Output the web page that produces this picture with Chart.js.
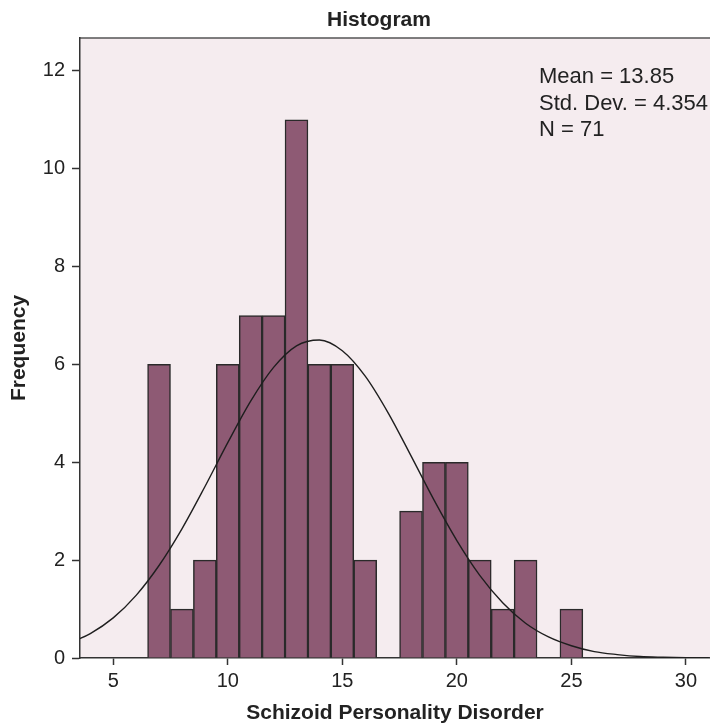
<!DOCTYPE html>
<html>
<head>
<meta charset="utf-8">
<title>Histogram</title>
<script src="https://cdn.jsdelivr.net/npm/chart.js@4"></script>
<style>
  body { margin: 0; background: #fff; }
  canvas { display: block; }
</style>
</head>
<body>
<canvas id="histo" width="710" height="726"></canvas>
<script>
const binCenters = [7, 8, 9, 10, 11, 12, 13, 14, 15, 16, 17, 18, 19, 20, 21, 22, 23, 24, 25];
const frequencies = [6, 1, 2, 6, 7, 7, 11, 6, 6, 2, 0, 3, 4, 4, 2, 1, 2, 0, 1];

// curva normal
const curveX = [3, 4, 5, 6, 7, 8, 9, 10, 11, 12, 13, 14, 15, 16, 17, 18, 19, 20, 21, 22, 23, 24, 25, 26, 27, 28, 29, 30, 31];
const curveY = [0.29, 0.50, 0.82, 1.28, 1.89, 2.64, 3.50, 4.40, 5.25, 5.94, 6.38, 6.50, 6.28, 5.76, 5.01, 4.13, 3.23, 2.40, 1.69, 1.13, 0.71, 0.43, 0.25, 0.13, 0.07, 0.03, 0.015, 0.006, 0.002];

const xTicks = [5, 10, 15, 20, 25, 30];
const yTicks = [0, 2, 4, 6, 8, 10, 12];
const statsText = ['Mean = 13.85', 'Std. Dev. = 4.354', 'N = 71'];

const FONT = "'Liberation Sans', Arial, Helvetica, sans-serif";

/* fondo rosado + titulo + texto de estadisticas */
const decor = {
    id: 'decor',
    beforeDraw(chart) {
        const {ctx, chartArea: a} = chart;
        ctx.save();
        ctx.fillStyle = '#f5ecef';
        ctx.fillRect(a.left, a.top, a.right - a.left, a.bottom - a.top);
        ctx.strokeStyle = '#555';
        ctx.lineWidth = 1.5;
        ctx.beginPath();
        ctx.moveTo(a.left, a.top);
        ctx.lineTo(a.right, a.top);
        ctx.stroke();
        ctx.restore();
    },
    afterDraw(chart) {
        const {ctx} = chart;
        ctx.save();
        ctx.fillStyle = '#222';
        ctx.textAlign = 'center';
        ctx.textBaseline = 'alphabetic';
        ctx.font = 'bold 21px ' + FONT;
        ctx.fillText('Histogram', 379, 26);
        ctx.textAlign = 'left';
        ctx.font = '22px ' + FONT;
        statsText.forEach((t, i) => ctx.fillText(t, 539, 83 + i * 26.7));
        ctx.restore();
    }
};

new Chart(document.getElementById('histo'), {
    data: {
        datasets: [{
            type: 'line',
            label: 'Normal',
            data: curveX.map((x, i) => ({x: x, y: curveY[i]})),
            borderColor: '#1e1e1e',
            borderWidth: 1.4,
            pointRadius: 0,
            cubicInterpolationMode: 'monotone',
            order: 0
        }, {
            type: 'bar',
            label: 'Frequency',
            data: binCenters.map((x, i) => ({x: x, y: frequencies[i]})),
            backgroundColor: '#8e5a74',
            borderColor: '#2a2a2a',
            borderWidth: 1.5,
            barPercentage: 1,
            categoryPercentage: 1,
            order: 1
        }]
    },
    options: {
        responsive: false,
        animation: false,
        layout: { padding: { top: 38, right: 0, left: 0, bottom: 0 } },
        plugins: {
            legend: { display: false },
            tooltip: { enabled: false },
            title: { display: false }
        },
        scales: {
            x: {
                type: 'linear',
                min: 3.55,
                max: 31.05,
                offset: false,
                afterBuildTicks: s => { s.ticks = xTicks.map(v => ({value: v})); },
                afterFit: s => { s.height = 68; },
                grid: { offset: false, drawOnChartArea: false, tickLength: 7, tickColor: '#333', tickWidth: 1.5 },
                border: { color: '#333', width: 1.5 },
                ticks: { color: '#222', padding: 4, font: { family: FONT, size: 20 } },
                title: {
                    display: true,
                    text: 'Schizoid Personality Disorder',
                    color: '#222',
                    padding: { top: 0, bottom: 0 },
                    font: { family: FONT, size: 21, weight: 'bold' }
                }
            },
            y: {
                min: 0,
                max: 12.67,
                afterBuildTicks: s => { s.ticks = yTicks.map(v => ({value: v})); },
                afterFit: s => { s.width = 80; },
                grid: { drawOnChartArea: false, tickLength: 8, tickColor: '#333', tickWidth: 1.5 },
                border: { color: '#333', width: 1.5 },
                ticks: { color: '#222', padding: 7, font: { family: FONT, size: 20 } },
                title: {
                    display: true,
                    text: 'Frequency',
                    color: '#222',
                    padding: { top: 7, bottom: 0 },
                    font: { family: FONT, size: 21, weight: 'bold' }
                }
            }
        }
    },
    plugins: [decor]
});
</script>
</body>
</html>
